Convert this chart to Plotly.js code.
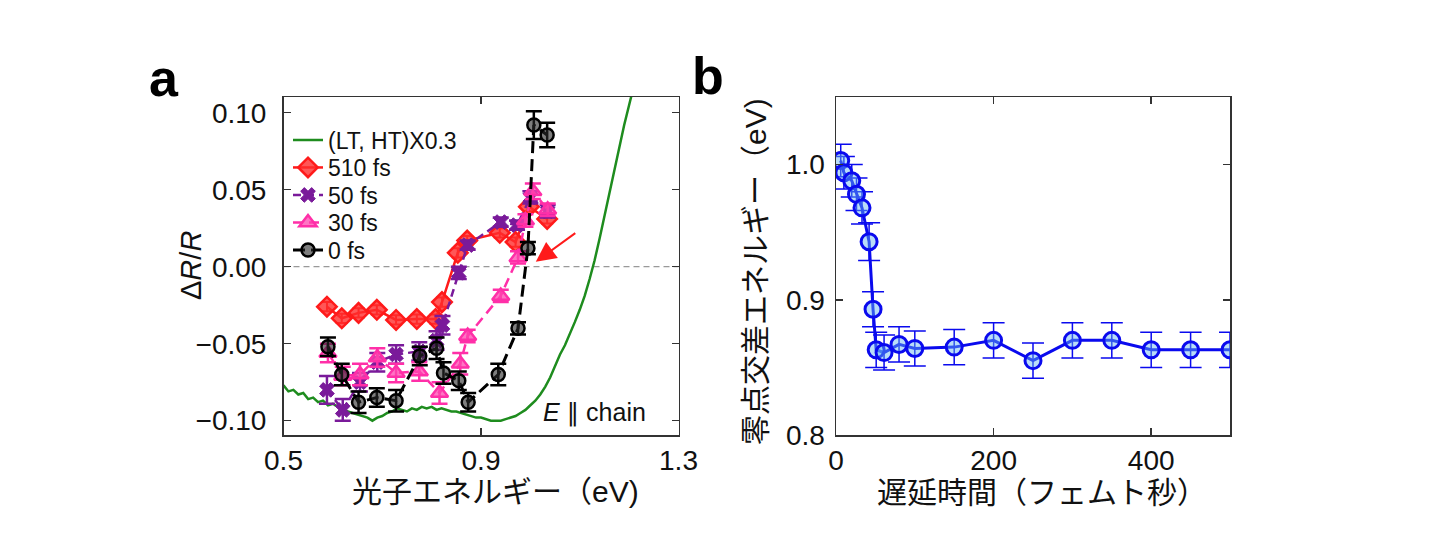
<!DOCTYPE html>
<html>
<head>
<meta charset="utf-8">
<script src="https://cdn.plot.ly/plotly-3.0.1.min.js"></script>
<style>html,body{margin:0;padding:0;background:#fff;}#chart{width:1440px;height:554px;}</style>
</head>
<body>
<div id="chart"></div>
<script>
// ---------- Panel a : ΔR/R spectra ----------
const greenE = [0.50,0.51,0.52,0.53,0.54,0.55,0.56,0.57,0.58,0.59,0.60,0.61,0.62,0.63,0.64,0.65,0.66,0.67,0.68,0.69,0.70,0.71,0.72,0.73,0.74,0.75,0.76,0.77,0.78,0.79,0.80,0.81,0.82,0.83,0.84,0.85,0.86,0.87,0.88,0.89,0.90,0.91,0.92,0.93,0.94,0.95,0.96,0.97,0.98,0.99,1.00,1.01,1.02,1.03,1.04,1.05,1.06,1.07,1.08,1.09,1.10,1.11,1.12,1.13,1.14,1.15,1.16,1.17,1.18,1.19,1.20,1.21];
const greenR = [-0.077,-0.081,-0.080,-0.083,-0.082,-0.086,-0.085,-0.088,-0.087,-0.090,-0.089,-0.091,-0.092,-0.094,-0.095,-0.096,-0.097,-0.098,-0.100,-0.098,-0.097,-0.095,-0.094,-0.092,-0.093,-0.094,-0.092,-0.093,-0.091,-0.092,-0.091,-0.093,-0.092,-0.093,-0.094,-0.094,-0.095,-0.096,-0.097,-0.098,-0.098,-0.099,-0.100,-0.100,-0.100,-0.099,-0.098,-0.097,-0.095,-0.093,-0.090,-0.087,-0.083,-0.078,-0.072,-0.064,-0.057,-0.051,-0.044,-0.036,-0.028,-0.019,-0.008,0.004,0.018,0.033,0.049,0.063,0.078,0.092,0.105,0.118];

const e510 = [0.588,0.618,0.652,0.689,0.728,0.770,0.808,0.821,0.853,0.872,0.938,0.970,0.997,1.034];
const r510 = [-0.026,-0.0335,-0.030,-0.028,-0.0346,-0.034,-0.034,-0.023,0.009,0.017,0.022,0.016,0.039,0.031];
const s510 = [0.003,0.003,0.003,0.003,0.003,0.003,0.003,0.003,0.003,0.003,0.003,0.003,0.003,0.003];

const e50 = [0.588,0.620,0.655,0.690,0.728,0.775,0.810,0.822,0.855,0.873,0.940,0.973,1.000,1.035];
const r50 = [-0.080,-0.093,-0.075,-0.062,-0.057,-0.055,-0.048,-0.038,-0.004,0.014,0.029,0.027,0.045,0.036];
const s50 = [0.009,0.007,0.006,0.006,0.006,0.006,0.006,0.006,0.004,0.003,0.003,0.003,0.004,0.004];

const e30 = [0.590,0.620,0.655,0.690,0.728,0.775,0.816,0.858,0.873,0.940,0.975,0.990,1.005,1.035];
const r30 = [-0.056,-0.071,-0.070,-0.059,-0.069,-0.068,-0.082,-0.063,-0.045,-0.019,0.006,0.030,0.049,0.037];
const s30 = [0.006,0.006,0.007,0.006,0.006,0.006,0.007,0.007,0.004,0.004,0.004,0.004,0.005,0.004];

const e0 = [0.590,0.618,0.652,0.689,0.728,0.776,0.810,0.824,0.855,0.874,0.935,0.975,0.995,1.007,1.034];
const r0 = [-0.052,-0.070,-0.088,-0.085,-0.087,-0.058,-0.053,-0.069,-0.074,-0.088,-0.070,-0.040,0.012,0.092,0.0855];
const s0 = [0.006,0.007,0.007,0.006,0.007,0.006,0.007,0.007,0.006,0.006,0.007,0.004,0.004,0.009,0.008];

const legendNames = ['(LT, HT)X0.3','510 fs','50 fs','30 fs','0 fs'];

// ---------- Panel b : zero-crossing energy vs delay ----------
const delayFs = [6,10,20,26,33,42,47,51,61,80,100,150,200,250,300,350,400,450,500];
const zeroE   = [1.003,0.994,0.988,0.978,0.968,0.943,0.893,0.863,0.861,0.867,0.864,0.865,0.870,0.855,0.870,0.870,0.863,0.863,0.863];
const zeroErr = [0.012,0.012,0.012,0.012,0.012,0.014,0.013,0.013,0.013,0.013,0.013,0.013,0.013,0.013,0.013,0.013,0.013,0.013,0.013];

const W = 1440, H = 554;
const px = X => X / W;
const py = Y => 1 - Y / H;

const FONT = 'Liberation Sans, Arial, Noto Sans CJK JP, sans-serif';

function errs(arr, color, w, t){ return {type:'data', array:arr, visible:true, color:color, thickness:t, width:w}; }

const traces = [
  {x:greenE, y:greenR, xaxis:'x', yaxis:'y', mode:'lines', name:legendNames[0], legend:'legend',
   line:{color:'#1e8c1e', width:2.5}},
  {x:e510, y:r510, xaxis:'x', yaxis:'y', mode:'lines+markers', name:legendNames[1], legend:'legend2',
   line:{color:'#ff1a1a', width:2.5},
   marker:{symbol:'diamond', size:15, color:'rgba(255,45,45,0.8)', line:{color:'#ff1a1a', width:2.5}},
   error_y:errs(s510,'#ff1a1a',6,2)},
  {x:e50, y:r50, xaxis:'x', yaxis:'y', mode:'lines+markers', name:legendNames[2], legend:'legend3',
   line:{color:'#7a1a9a', width:2.5, dash:'8px,5px'},
   marker:{symbol:'x', size:13, color:'#7a1a9a', line:{color:'#7a1a9a', width:1}},
   error_y:errs(s50,'#7a1a9a',8,2.5)},
  {x:e30, y:r30, xaxis:'x', yaxis:'y', mode:'lines+markers', name:legendNames[3], legend:'legend4',
   line:{color:'#ff2fa8', width:2.5, dash:'10px,6px'},
   marker:{symbol:'triangle-up', size:15, color:'rgba(255,70,175,0.75)', line:{color:'#ff2fa8', width:2.5}},
   error_y:errs(s30,'#ff2fa8',8,2.5)},
  {x:e0, y:r0, xaxis:'x', yaxis:'y', mode:'lines+markers', name:legendNames[4], legend:'legend5',
   line:{color:'#000', width:3, dash:'12px,6px'},
   marker:{symbol:'circle', size:13, color:'rgba(40,40,40,0.6)', line:{color:'#000', width:2.5}},
   error_y:errs(s0,'#000',8,2.5)},
  {x:delayFs, y:zeroE, xaxis:'x2', yaxis:'y2', mode:'lines+markers', showlegend:false,
   line:{color:'#0a0aee', width:3},
   marker:{symbol:'circle', size:16, color:'rgba(100,180,240,0.45)', line:{color:'#0a0aee', width:3}},
   error_y:errs(zeroErr,'#0a0aee',11,1.5)}
];

const axisStyle = {
  showline:true, linecolor:'#333', linewidth:1.5, mirror:'ticks',
  ticks:'inside', ticklen:7, tickwidth:1.5, tickcolor:'#333',
  showgrid:false, zeroline:false, automargin:false,
  tickfont:{family:FONT, size:28, color:'#111'}
};

const yDom = [py(435), py(97)];

function leg(Yc){
  return {x:px(288), xanchor:'left', y:py(Yc), yanchor:'middle', bgcolor:'rgba(0,0,0,0)',
          borderwidth:0, font:{family:FONT, size:23, color:'#111'}, itemwidth:30, tracegroupgap:0};
}

const ann = (o) => Object.assign({showarrow:false, font:{family:FONT, size:30, color:'#111'}}, o);

const layout = {
  width:W, height:H, margin:{l:0,r:0,t:0,b:0},
  paper_bgcolor:'#fff', plot_bgcolor:'#fff',
  showlegend:true,
  xaxis:Object.assign({}, axisStyle, {domain:[px(283.5), px(678.5)], range:[0.5,1.3], tickvals:[0.5,0.9,1.3], ticktext:['0.5','0.9','1.3'], anchor:'y', ticklabelstandoff:0}),
  yaxis:Object.assign({}, axisStyle, {domain:yDom, range:[-0.1093,0.1102], tickvals:[-0.1,-0.05,0,0.05,0.1], tickformat:'.2f', anchor:'x', ticklabelstandoff:10}),
  xaxis2:Object.assign({}, axisStyle, {domain:[px(836), px(1230)], range:[0,500], tickvals:[0,200,400], anchor:'y2', ticklabelstandoff:0}),
  yaxis2:Object.assign({}, axisStyle, {domain:yDom, range:[0.8,1.05], tickvals:[0.8,0.9,1.0], tickformat:'.1f', anchor:'x2', ticklabelstandoff:4}),
  legend:leg(140), legend2:leg(167.5), legend3:leg(195), legend4:leg(222.5), legend5:leg(250),
  shapes:[
    {type:'line', xref:'x domain', yref:'y', x0:0, x1:1, y0:0, y1:0, line:{color:'#999', width:1.2, dash:'6px,4px'}, layer:'below'}
  ],
  annotations:[
    ann({xref:'paper', yref:'paper', x:px(495), y:py(491), xanchor:'center', yanchor:'middle', text:'光子エネルギー（eV)'}),
    ann({xref:'paper', yref:'paper', x:px(1042), y:py(492), xanchor:'center', yanchor:'middle', text:'遅延時間（フェムト秒）'}),
    ann({xref:'paper', yref:'paper', x:px(191), y:py(266), xanchor:'center', yanchor:'middle', textangle:-90, text:'Δ<i>R</i>/<i>R</i>', font:{family:FONT, size:29, color:'#111'}}),
    ann({xref:'paper', yref:'paper', x:px(755), y:py(272), xanchor:'center', yanchor:'middle', textangle:-90, text:'零点交差エネルギー（eV)'}),
    ann({xref:'paper', yref:'paper', x:px(164), y:py(78), xanchor:'center', yanchor:'middle', text:'<b>a</b>', font:{family:FONT, size:52, color:'#000'}}),
    ann({xref:'paper', yref:'paper', x:px(708), y:py(76), xanchor:'center', yanchor:'middle', text:'<b>b</b>', font:{family:FONT, size:52, color:'#000'}}),
    ann({xref:'x', yref:'y', x:1.022, y:-0.095, xanchor:'left', yanchor:'middle', text:'<i>E</i> <span style="font-family:DejaVu Sans">∥</span> chain', font:{family:FONT, size:25, color:'#111'}}),
    {xref:'x', yref:'y', axref:'x', ayref:'y', x:1.011, y:0.0032, ax:1.094, ay:0.0225, text:'', showarrow:true,
     arrowhead:2, arrowsize:2, arrowwidth:2, arrowcolor:'#ff1a1a', standoff:0}
  ]
};

Plotly.newPlot('chart', traces, layout, {staticPlot:true, displayModeBar:false});
</script>
</body>
</html>
